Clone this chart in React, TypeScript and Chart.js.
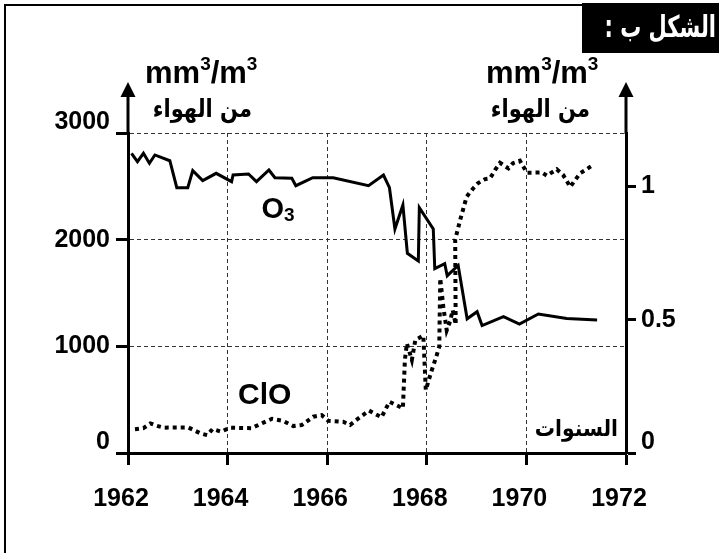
import React, { useEffect, useRef } from 'react';
import { Chart, registerables } from 'chart.js';

Chart.register(...registerables);

// ---------- data ----------
const O3_YEARS = [
  1962.07, 1962.19, 1962.31, 1962.43, 1962.54, 1962.84, 1962.98, 1963.2, 1963.3, 1963.5,
  1963.77, 1964.08, 1964.11, 1964.42, 1964.58, 1964.83, 1964.95, 1965.29, 1965.37, 1965.71,
  1966.12, 1966.83, 1967.13, 1967.25, 1967.36, 1967.52, 1967.61, 1967.83, 1967.85, 1968.13,
  1968.16, 1968.36, 1968.41, 1968.63, 1968.81, 1969.01, 1969.11, 1969.54, 1969.86, 1970.24,
  1970.81, 1971.42,
];
const O3_VALUES = [
  2810, 2731, 2810, 2716, 2794, 2740, 2487, 2487, 2647, 2553,
  2622, 2544, 2606, 2616, 2544, 2653, 2581, 2575, 2506, 2581,
  2581, 2506, 2606, 2487, 2100, 2325, 1872, 1800, 2300, 2100,
  1728, 1775, 1662, 1758, 1258, 1325, 1195, 1278, 1209, 1303,
  1262, 1247,
];

const CLO_YEARS = [
  1962.14, 1962.31, 1962.45, 1962.58, 1962.71, 1963.21, 1963.45, 1963.59, 1963.7, 1963.87,
  1964.05, 1964.48, 1964.72, 1964.89, 1965.12, 1965.32, 1965.49, 1965.72, 1965.89, 1966.02,
  1966.32, 1966.46, 1966.6, 1966.84, 1967.09, 1967.25, 1967.52, 1967.56, 1967.6, 1967.7,
  1967.77, 1967.93, 1967.98, 1968.09, 1968.19, 1968.25, 1968.27, 1968.33, 1968.4, 1968.47,
  1968.52, 1968.58, 1968.57, 1968.67, 1968.8, 1968.93, 1969.03, 1969.17, 1969.27, 1969.37,
  1969.47, 1969.64, 1969.73, 1969.87, 1970.01, 1970.31, 1970.41, 1970.61, 1970.74, 1970.88,
  1971.08, 1971.34,
];
const CLO_VALUES = [
  0.089, 0.093, 0.111, 0.102, 0.095, 0.096, 0.074, 0.067, 0.09, 0.08,
  0.095, 0.093, 0.114, 0.128, 0.12, 0.101, 0.105, 0.136, 0.142, 0.121,
  0.117, 0.105, 0.126, 0.159, 0.134, 0.192, 0.168, 0.349, 0.411, 0.349,
  0.424, 0.44, 0.236, 0.305, 0.361, 0.399, 0.655, 0.55, 0.46, 0.495,
  0.536, 0.482, 0.8, 0.874, 0.961, 0.992, 1.012, 1.027, 1.03, 1.061,
  1.088, 1.067, 1.087, 1.096, 1.051, 1.052, 1.04, 1.064, 1.042, 0.998,
  1.049, 1.08,
];

const YEAR_TICKS = [1962, 1964, 1966, 1968, 1970, 1972];
const LEFT_TICKS = [0, 1000, 2000, 3000];
const RIGHT_TICKS = [0, 0.5, 1];

const TITLE_TEXT = 'الشكل ب :';
const UNIT_AR = 'من الهواء';
const X_TITLE = 'السنوات';
const O3_NAME = 'O';
const O3_SUB = '3';
const CLO_NAME = 'ClO';

// label anchors in data units
const O3_LABEL_AT = { x: 1964.68, y: 2203 };
const CLO_LABEL_AT = { x: 1964.21, y: 459 };
const X_TITLE_AT = { x: 1971.84, y: 215 };

const FONT = '"Liberation Sans", Arial, sans-serif';
const AR_FONT = '"DejaVu Sans", sans-serif';

function drawParts(ctx: CanvasRenderingContext2D, x: number, y: number, parts: [string, number][], size: number, supSize: number) {
  let cx = x;
  for (const [txt, shift] of parts) {
    const sz = shift === 0 ? size : supSize;
    ctx.font = `bold ${sz}px ${FONT}`;
    ctx.fillText(txt, cx, y + shift);
    cx += ctx.measureText(txt).width;
  }
}

function drawArabic(
  ctx: CanvasRenderingContext2D, text: string, x: number, y: number, size: number, sx: number, color: string,
  baseline: CanvasTextBaseline = 'middle',
) {
  ctx.save();
  ctx.translate(x, y);
  ctx.scale(sx, 1);
  ctx.fillStyle = color;
  ctx.font = `bold ${size}px ${AR_FONT}`;
  ctx.textAlign = 'right';
  ctx.textBaseline = baseline;
  (ctx as any).direction = 'rtl';
  ctx.fillText(text, 0, 0);
  ctx.restore();
}

const decor = {
  id: 'decor',
  afterDraw(chart: any) {
    const ctx: CanvasRenderingContext2D = chart.ctx;
    const { left, right, top } = chart.chartArea;
    const xs = chart.scales.x;
    const yl = chart.scales.y;
    ctx.save();
    ctx.fillStyle = '#000';
    ctx.strokeStyle = '#000';

    // frame (top and left)
    ctx.fillRect(4, 4, 715, 2);
    ctx.fillRect(4, 4, 2, 549);

    // axis arrows
    ctx.lineWidth = 3;
    for (const ax of [left, right]) {
      ctx.beginPath();
      ctx.moveTo(ax, top + 1);
      ctx.lineTo(ax, top - 38);
      ctx.stroke();
      ctx.beginPath();
      ctx.moveTo(ax, top - 51);
      ctx.lineTo(ax - 7.5, top - 36);
      ctx.lineTo(ax + 7.5, top - 36);
      ctx.closePath();
      ctx.fill();
    }

    // title box
    ctx.fillRect(582, 3, 137, 50);
    drawArabic(ctx, TITLE_TEXT, 716, 29, 30, 0.7, '#fff');

    // unit labels (Arabic)
    drawArabic(ctx, UNIT_AR, left + 124, 117, 25, 0.84, '#000', 'alphabetic');
    drawArabic(ctx, UNIT_AR, right - 36, 117, 25, 0.84, '#000', 'alphabetic');
    drawArabic(ctx, X_TITLE, xs.getPixelForValue(X_TITLE_AT.x), yl.getPixelForValue(X_TITLE_AT.y), 23, 0.88, '#000');

    ctx.fillStyle = '#000';
    ctx.textAlign = 'left';
    ctx.textBaseline = 'alphabetic';
    const unitParts: [string, number][] = [['mm', 0], ['3', -13], ['/m', 0], ['3', -13]];
    drawParts(ctx, left + 17, 83, unitParts, 31, 19);
    drawParts(ctx, right - 140, 83, unitParts, 31, 19);

    // series names
    const ox = xs.getPixelForValue(O3_LABEL_AT.x);
    const oy = yl.getPixelForValue(O3_LABEL_AT.y);
    drawParts(ctx, ox, oy, [[O3_NAME, 0], [O3_SUB, 3]], 29, 19);
    ctx.font = `bold 30px ${FONT}`;
    ctx.fillText(CLO_NAME, xs.getPixelForValue(CLO_LABEL_AT.x), yl.getPixelForValue(CLO_LABEL_AT.y));

    ctx.restore();
  },
};

export default function App() {
  const ref = useRef<HTMLCanvasElement | null>(null);
  useEffect(() => {
    const canvas = ref.current;
    if (!canvas) return;
    const tickFont = { family: FONT, weight: 'bold' as const, size: 25 };
    const yTickFont = { family: FONT, weight: 'bold' as const, size: 25, lineHeight: 0.85 };
    const chart = new Chart(canvas, {
      type: 'line',
      data: {
        datasets: [
          {
            label: 'O3',
            data: O3_YEARS.map((x, i) => ({ x, y: O3_VALUES[i] })),
            yAxisID: 'y',
            borderColor: '#000',
            borderWidth: 3,
            pointRadius: 0,
            tension: 0,
            fill: false,
          },
          {
            label: 'ClO',
            data: CLO_YEARS.map((x, i) => ({ x, y: CLO_VALUES[i] })),
            yAxisID: 'y1',
            borderColor: '#000',
            borderWidth: 4,
            borderDash: [4, 4],
            pointRadius: 0,
            tension: 0,
            fill: false,
          },
        ],
      },
      options: {
        responsive: false,
        animation: false,
        devicePixelRatio: 1,
        layout: { padding: { top: 133, left: 0, right: 0, bottom: 0 } },
        plugins: { legend: { display: false }, tooltip: { enabled: false }, title: { display: false } },
        scales: {
          x: {
            type: 'linear',
            min: 1962,
            max: 1972,
            afterBuildTicks: (s: any) => { s.ticks = YEAR_TICKS.map((v) => ({ value: v })); },
            afterFit: (s: any) => { s.height = 100; },
            ticks: { color: '#000', font: tickFont, padding: 19, labelOffset: -7, autoSkip: false, maxRotation: 0, callback: (v: any) => String(v) },
            grid: { color: '#333', lineWidth: 1, tickColor: '#000', tickWidth: 3, tickLength: 12 },
            border: { display: true, color: '#000', width: 3, dash: [4, 3] },
          },
          y: {
            type: 'linear',
            position: 'left',
            min: 0,
            max: 3000,
            afterBuildTicks: (s: any) => { s.ticks = LEFT_TICKS.map((v) => ({ value: v })); },
            afterFit: (s: any) => { s.width = 128; },
            ticks: { color: '#000', font: yTickFont, padding: 6, callback: (v: any) => (v === 0 || v === 3000 ? [String(v), ''] : String(v)) },
            grid: { color: '#333', lineWidth: 1, tickColor: '#000', tickWidth: 3, tickLength: 12 },
            border: { display: true, color: '#000', width: 3, dash: [4, 3] },
          },
          y1: {
            type: 'linear',
            position: 'right',
            min: 0,
            max: 1.2,
            afterBuildTicks: (s: any) => { s.ticks = RIGHT_TICKS.map((v) => ({ value: v })); },
            afterFit: (s: any) => { s.width = 93; },
            ticks: { color: '#000', font: yTickFont, padding: 5, callback: (v: any) => (v === 0 ? ['0', ''] : String(v)) },
            grid: { drawOnChartArea: false, tickColor: '#000', tickWidth: 3, tickLength: 10 },
            border: { display: true, color: '#000', width: 3 },
          },
        },
      },
      plugins: [decor],
    } as any);
    return () => chart.destroy();
  }, []);
  return (
    <div style={{ position: 'fixed', left: 0, top: 0, width: 719, height: 553, background: '#fff' }}>
      <canvas ref={ref} width={719} height={553} style={{ display: 'block', width: 719, height: 553 }} />
    </div>
  );
}
